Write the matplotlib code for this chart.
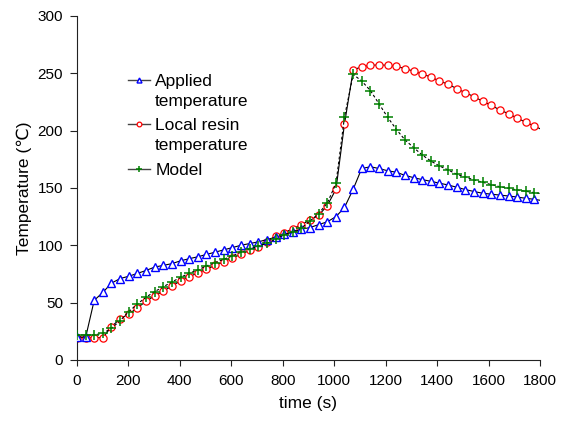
import matplotlib
matplotlib.use("Agg")
import matplotlib.pyplot as plt

plt.rcParams['font.family'] = ['Liberation Sans', 'DejaVu Sans']
plt.rcParams['font.size'] = 11

# sampling times (s); last point only closes the line at 1800 s
time_s = [0, 34, 67, 101, 134, 168, 201, 235, 268, 302,
          336, 369, 403, 436, 470, 503, 537, 570, 604, 637,
          671, 705, 738, 772, 805, 839, 872, 906, 939, 973,
          1007, 1040, 1074, 1107, 1141, 1174, 1208, 1242, 1275, 1309,
          1342, 1376, 1409, 1443, 1477, 1510, 1544, 1577, 1611, 1644,
          1678, 1711, 1745, 1778, 1800]

applied = [20, 20, 52, 59, 67, 71, 73, 75.5, 78, 81,
           82.5, 84, 86.5, 88.3, 90, 92, 94, 96, 98, 100,
           101.5, 103, 105, 107, 109.5, 111.5, 114, 115.5, 118, 120.5,
           125, 133, 149, 167, 168.5, 167, 165, 163.7, 161, 159,
           157.3, 155.8, 154.2, 152.6, 150.6, 148.6, 146.9, 145.4, 144.6, 143.8,
           143, 142.1, 141, 140.1, 139.3]

resin = [19.5, 19.5, 19.5, 19.5, 29, 36, 40, 45.5, 51, 56,
         60, 64.5, 69, 72.5, 76, 79, 82.5, 85.5, 89, 92,
         95.5, 98.5, 103, 108, 111, 114.5, 118, 122, 126, 134.6,
         148.9, 205.8, 252.9, 255.8, 257, 257.3, 257, 256, 254.2, 251.8,
         249.4, 246.8, 243.3, 240.5, 236.6, 233.1, 229.6, 225.6, 222.1, 218,
         214.8, 211, 207.3, 204.1, 201.7]

model = [21.8, 21.8, 21.8, 23.3, 27.6, 34.3, 42.1, 48.8, 54.7, 59.6,
         63.9, 68, 72.1, 75.6, 78.5, 82, 84.9, 87.8, 90.7, 93.9,
         96.5, 99.4, 101.7, 105.2, 109.3, 111.6, 115, 121.2, 127.5, 136.8,
         154, 212, 249, 243.3, 234.9, 223.5, 211.6, 201, 192, 185.2,
         178.8, 173.5, 169.2, 165.7, 161.9, 159.6, 157, 155, 152.9, 151.1,
         149.7, 148.3, 147.1, 145.9, 145.2]

labels = ['Applied\ntemperature', 'Local resin\ntemperature', 'Model']

marks = slice(0, len(time_s) - 1)

fig = plt.figure(figsize=(5.66, 4.21), dpi=100)
ax = fig.add_axes([0.136, 0.145, 0.818, 0.817])

styles = [
    dict(color='black', lw=0.8, marker='^', ms=5.5, mec='blue', mfc='white', mew=1.0, zorder=3),
    dict(color='black', lw=0.8, marker='o', ms=5.2, mec='red', mfc='white', mew=0.9, zorder=2),
    dict(color='black', lw=0.8, ls=(0, (2.5, 2)), marker='+', ms=6.5, mec='green', mew=1.1, zorder=4),
]

for series, st in zip([applied, resin, model], styles):
    ax.plot(time_s, series, markevery=marks, **st)

ax.set_xlim(0, 1800)
ax.set_ylim(0, 300)
ax.set_xticks(range(0, 1801, 200))
ax.set_yticks(range(0, 301, 50))
ax.spines['top'].set_visible(False)
ax.spines['right'].set_visible(False)
for s in ('left', 'bottom'):
    ax.spines[s].set_linewidth(0.8)
    ax.spines[s].set_color('#222222')
ax.tick_params(axis='y', direction='out', length=5, width=0.8, pad=5, color='#222222')
ax.tick_params(axis='x', direction='out', length=4, width=0.8, pad=6, color='#222222')

ax.set_xlabel('time (s)', fontsize=12.5, labelpad=6)
ax.set_ylabel('Temperature (℃)', fontsize=12.5, labelpad=4)

# hand-placed legend: marker sits on the first line of each label
leg_x0, leg_x1, leg_tx = 0.110, 0.157, 0.169
leg_y = [0.8140, 0.6860, 0.5550]
line_step = 0.058
for lab, st, y in zip(labels, styles, leg_y):
    ax.plot([leg_x0, leg_x1], [y, y], transform=ax.transAxes, clip_on=False,
            color='#444444', lw=1.0, ls='-', zorder=5)
    ax.plot([(leg_x0 + leg_x1) / 2], [y], transform=ax.transAxes, clip_on=False,
            ls='none', marker=st['marker'], ms=st['ms'] * 0.65, mec=st['mec'],
            mfc=st.get('mfc', 'none'), mew=st['mew'], zorder=6)
    nlines = lab.count('\n') + 1
    ax.text(leg_tx, y - 0.018 - (nlines - 1) * line_step, lab,
            transform=ax.transAxes, fontsize=12.5,
            va='baseline', ha='left', linespacing=1.45)

fig.savefig('out.png', dpi=100)
